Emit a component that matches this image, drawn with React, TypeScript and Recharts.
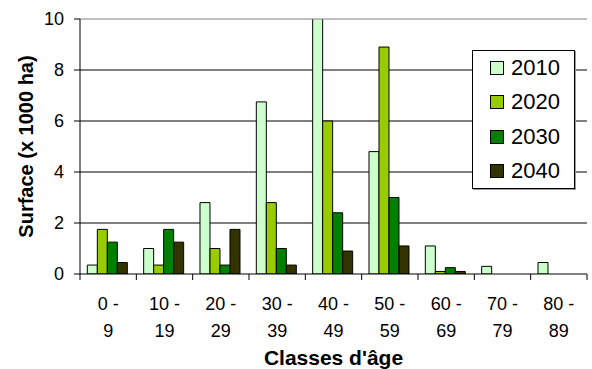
import { BarChart, Bar, XAxis, YAxis, CartesianGrid, Legend, ReferenceLine, Label } from "recharts"

const CATEGORIES = ["0 - 9", "10 - 19", "20 - 29", "30 - 39", "40 - 49", "50 - 59", "60 - 69", "70 - 79", "80 - 89"]
const S2010 = [0.35, 1.0, 2.8, 6.75, 10.15, 4.8, 1.1, 0.3, 0.45]
const S2020 = [1.75, 0.35, 1.0, 2.8, 6.0, 8.9, 0.1, 0, 0]
const S2030 = [1.25, 1.75, 0.35, 1.0, 2.4, 3.0, 0.25, 0, 0]
const S2040 = [0.45, 1.25, 1.75, 0.35, 0.9, 1.1, 0.1, 0, 0]
const Y_TICKS = [0, 2, 4, 6, 8, 10]
const GRID_VALUES = [2, 4, 6, 8]

const SERIES = [
  { key: "2010", color: "#CCFFCC" },
  { key: "2020", color: "#99CC00" },
  { key: "2030", color: "#008000" },
  { key: "2040", color: "#333300" },
]

const data = CATEGORIES.map((cat, i) => ({
  cat,
  "2010": S2010[i],
  "2020": S2020[i],
  "2030": S2030[i],
  "2040": S2040[i],
}))

const FONT = "'Liberation Sans', Arial, sans-serif"
const W = 592
const H = 369
const PLOT_LEFT = 80
const PLOT_RIGHT = 587
const HALF_BAND = (PLOT_RIGHT - PLOT_LEFT) / CATEGORIES.length / 2

// two-line category label plus tick marks on the band edges
const AgeTick = (props: any) => {
  const { x, y, payload, index } = props
  const [lo, hi] = String(payload.value).split(" - ")
  return (
    <g>
      <line x1={x - HALF_BAND} x2={x - HALF_BAND} y1={y} y2={y + 6} stroke="#000" />
      {index === CATEGORIES.length - 1 && (
        <line x1={x + HALF_BAND} x2={x + HALF_BAND} y1={y} y2={y + 6} stroke="#000" />
      )}
      <text x={x} y={y + 36} textAnchor="middle" fontSize={18} fontFamily={FONT} fill="#000">
        {lo} -
      </text>
      <text x={x} y={y + 63} textAnchor="middle" fontSize={18} fontFamily={FONT} fill="#000">
        {hi}
      </text>
    </g>
  )
}

const renderLegend = () => (
  <div
    style={{
      width: 103,
      height: 139,
      boxSizing: "border-box",
      border: "1px solid #000",
      background: "#fff",
      boxShadow: "1px 1px 0 #999",
      fontFamily: FONT,
      fontSize: 22,
      color: "#000",
    }}
  >
    {SERIES.map((s) => (
      <div key={s.key} style={{ height: 34.25, display: "flex", alignItems: "center", paddingLeft: 17 }}>
        <span
          style={{
            width: 14,
            height: 14,
            boxSizing: "border-box",
            border: "1px solid #000",
            background: s.color,
            marginRight: 7,
          }}
        />
        <span>{s.key}</span>
      </div>
    ))}
  </div>
)

export default function App() {
  return (
    <div style={{ position: "absolute", left: 0, top: 0, width: W, height: H, background: "#fff" }}>
      <BarChart
        width={W}
        height={H}
        data={data}
        margin={{ top: 19, right: W - PLOT_RIGHT, left: 0, bottom: 0 }}
        barCategoryGap="13%"
        barGap={0}
      >
        <CartesianGrid vertical={false} horizontalValues={GRID_VALUES} stroke="#000" />
        <XAxis
          dataKey="cat"
          height={95}
          interval={0}
          tickLine={false}
          tickSize={0}
          tickMargin={0}
          axisLine={{ stroke: "#000" }}
          tick={<AgeTick />}
        >
          <Label
            content={(p: any) => {
              const vb = p.viewBox
              return (
                <text
                  x={vb.x + vb.width / 2}
                  y={vb.y + 91}
                  textAnchor="middle"
                  fontSize={21}
                  fontWeight="bold"
                  fontFamily={FONT}
                  fill="#000"
                >
                  Classes d'âge
                </text>
              )
            }}
          />
        </XAxis>
        <YAxis
          width={PLOT_LEFT}
          domain={[0, 10]}
          ticks={Y_TICKS}
          allowDataOverflow
          tickSize={6}
          tickMargin={10}
          axisLine={{ stroke: "#000" }}
          tickLine={{ stroke: "#000" }}
          tick={{ fontSize: 18, fill: "#000", fontFamily: FONT }}
        >
          <Label
            content={(p: any) => {
              const vb = p.viewBox
              const cy = vb.y + vb.height / 2
              return (
                <text
                  x={33}
                  y={cy}
                  transform={`rotate(-90, 33, ${cy})`}
                  textAnchor="middle"
                  fontSize={20}
                  fontWeight="bold"
                  fontFamily={FONT}
                  fill="#000"
                >
                  Surface (x 1000 ha)
                </text>
              )
            }}
          />
        </YAxis>
        <YAxis
          yAxisId="right"
          orientation="right"
          width={0}
          domain={[0, 10]}
          tick={false}
          tickLine={false}
          axisLine={{ stroke: "#808080" }}
        />
        <ReferenceLine y={10} stroke="#808080" />
        {SERIES.map((s) => (
          <Bar key={s.key} dataKey={s.key} fill={s.color} stroke="#000" strokeWidth={1} isAnimationActive={false} />
        ))}
        <Legend
          layout="horizontal"
          verticalAlign="middle"
          align="center"
          content={renderLegend}
          wrapperStyle={{ left: 472, top: 50, width: 103, height: 139 }}
        />
      </BarChart>
    </div>
  )
}
